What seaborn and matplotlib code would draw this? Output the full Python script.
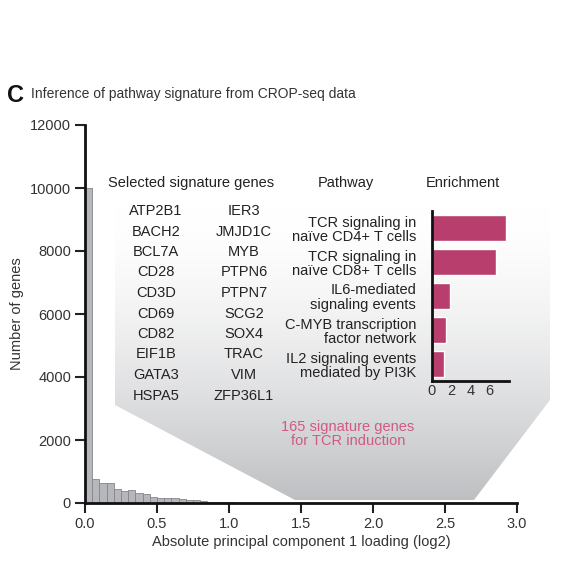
import numpy as np
import pandas as pd
import matplotlib
matplotlib.use("Agg")
import matplotlib.pyplot as plt
from matplotlib.patches import Polygon
import seaborn as sns

sns.set_theme(style="ticks")
plt.rcParams["font.family"] = ["Liberation Sans", "DejaVu Sans"]

# histogram of |PC1 loading| (log2), bins of 0.05
bin_edges = [round(0.05 * i, 2) for i in range(27)]
bin_counts = [10000, 760, 650, 630, 450, 370, 410, 310, 290, 200,
              170, 170, 150, 120, 95, 95, 65, 45, 35, 25,
              20, 15, 10, 8, 5, 3]

genes_left = ["ATP2B1", "BACH2", "BCL7A", "CD28", "CD3D",
              "CD69", "CD82", "EIF1B", "GATA3", "HSPA5"]
genes_right = ["IER3", "JMJD1C", "MYB", "PTPN6", "PTPN7",
               "SCG2", "SOX4", "TRAC", "VIM", "ZFP36L1"]

pathways = ["TCR signaling in\nnaïve CD4+ T cells",
            "TCR signaling in\nnaïve CD8+ T cells",
            "IL6-mediated\nsignaling events",
            "C-MYB transcription\nfactor network",
            "IL2 signaling events\nmediated by PI3K"]
enrichment = [7.65, 6.6, 1.9, 1.45, 1.2]

W = 566
def fx(x):
    return x / W
def fy(y):
    return 1 - y / W

fig = plt.figure(figsize=(5.66, 5.66), dpi=100)

# background gradient panel (pixel coords)
bg = fig.add_axes([0, 0, 1, 1], zorder=0)
bg.set_xlim(0, W)
bg.set_ylim(W, 0)
bg.axis("off")
panel = Polygon([(115, 175), (115, 405), (295, 500), (474, 500),
                 (550, 400), (550, 175)], closed=True,
                facecolor="none", edgecolor="none")
bg.add_patch(panel)
grad = np.linspace(0, 1, 256)[:, None]
grad = np.clip((grad - 0.1) / 0.9, 0, 1) ** 1.6
top = np.array([1.0, 1.0, 1.0])
bottom = np.array([0.745, 0.75, 0.76])
img = top + (bottom - top) * grad[..., None]
img = np.repeat(img, 2, axis=1)
im = bg.imshow(img, extent=(115, 550, 500, 175), aspect="auto",
               interpolation="bilinear")
im.set_clip_path(panel)

# main histogram axes
ax = fig.add_axes([fx(85), fy(503), (517 - 85) / W, (503 - 125) / W], zorder=2)
ax.set_facecolor("none")
hist_df = pd.DataFrame({
    "loading": [(a + b) / 2 for a, b in zip(bin_edges[:-1], bin_edges[1:])],
    "count": bin_counts,
})
sns.histplot(data=hist_df, x="loading", weights="count", bins=bin_edges, ax=ax,
             color="#b6b7bc", edgecolor="#85868a", linewidth=0.6, alpha=1)
ax.set_xlim(0, 3.0)
ax.set_ylim(0, 12000)
ax.set_xticks([0, 0.5, 1.0, 1.5, 2.0, 2.5, 3.0])
ax.set_xticklabels(["0.0", "0.5", "1.0", "1.5", "2.0", "2.5", "3.0"])
ax.set_yticks(range(0, 12001, 2000))
for s in ["top", "right"]:
    ax.spines[s].set_visible(False)
for s in ["left", "bottom"]:
    ax.spines[s].set_linewidth(2)
    ax.spines[s].set_color("#111111")
ax.tick_params(direction="out", length=7, width=1.5, color="#222222",
               labelsize=10.5, labelcolor="#333333", pad=3)
ax.set_xlabel("Absolute principal component 1 loading (log2)",
              fontsize=10.5, color="#333333", labelpad=3)
ax.set_ylabel("Number of genes", fontsize=10.5, color="#333333", labelpad=4)

# title
fig.text(fx(7), fy(95), "C", fontsize=17, fontweight="bold",
         va="center", ha="left", color="#111111")
fig.text(fx(31), fy(94), "Inference of pathway signature from CROP-seq data",
         fontsize=10, va="center", ha="left", color="#333333")

# headers
for x, t in [(108, "Selected signature genes"), (318, "Pathway"),
             (426, "Enrichment")]:
    fig.text(fx(x), fy(183), t, fontsize=10.5, va="center", ha="left",
             color="#222222")

# gene columns
for i, (g1, g2) in enumerate(zip(genes_left, genes_right)):
    y = 211 + i * 20.5
    fig.text(fx(156), fy(y), g1, fontsize=10.5, ha="center", va="center",
             color="#222222")
    fig.text(fx(244), fy(y), g2, fontsize=10.5, ha="center", va="center",
             color="#222222")

# enrichment inset
ax2 = fig.add_axes([fx(432), fy(381), (509 - 432) / W, (381 - 211) / W],
                   zorder=3)
ax2.set_facecolor("none")
sns.barplot(x=enrichment, y=pathways, orient="h", color="#b83f6d",
            width=0.76, saturation=1, ax=ax2)
ax2.set_xlim(0, 8)
ax2.set_ylim(len(pathways) - 0.5, -0.5)
ax2.set_xticks([0, 2, 4, 6])
ax2.set_xlabel("")
ax2.set_ylabel("")
for s in ["top", "right"]:
    ax2.spines[s].set_visible(False)
for s in ["left", "bottom"]:
    ax2.spines[s].set_linewidth(2)
    ax2.spines[s].set_color("#111111")
ax2.tick_params(axis="x", length=0, labelsize=10.5, labelcolor="#333333", pad=2)
ax2.tick_params(axis="y", length=0, labelsize=10.5, labelcolor="#222222",
                pad=11.5)
for lab in ax2.get_yticklabels():
    lab.set_horizontalalignment("right")
    lab.set_linespacing(1.05)

fig.text(fx(348), fy(434), "165 signature genes\nfor TCR induction",
         fontsize=10.5, ha="center", va="center", color="#d05a84",
         linespacing=1.0)

fig.savefig("out.png", dpi=100)
